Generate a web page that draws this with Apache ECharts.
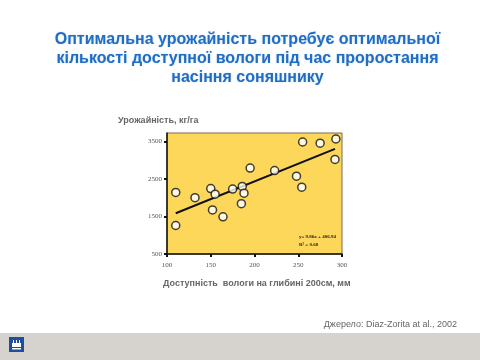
<!DOCTYPE html>
<html><head><meta charset="utf-8">
<script src="https://cdn.jsdelivr.net/npm/echarts@6/dist/echarts.min.js"></script>
<style>html,body{margin:0;padding:0;background:#fff}#c{width:480px;height:360px}</style>
</head><body><div id="c"></div>
<script>
// Data
const moisture = [110, 110, 132, 150, 155, 152, 164, 175, 186, 188, 185, 195, 223, 248, 254, 255, 275, 293, 292];
const yieldKg  = [2140, 1260, 2000, 2245, 2095, 1675, 1490, 2230, 2300, 2120, 1840, 2790, 2725, 2575, 2280, 3485, 3455, 3565, 3020];
const trendX = [110, 292];
const trendY = [1585, 3300];
const xTicks = [100, 150, 200, 250, 300];
const yTicks = [500, 1500, 2500, 3500];

const pts = moisture.map((x, i) => [x, yieldKg[i]]);
const line = trendX.map((x, i) => [x, trendY[i]]);

const chart = echarts.init(document.getElementById('c'), null, {renderer: 'canvas'});
const axisFont = {fontFamily: 'Liberation Serif', fontSize: 7, color: '#555', formatter: v => String(v)};
chart.setOption({
  backgroundColor: '#fff',
  animation: false,
  grid: {left: 167, right: 138, top: 133, bottom: 106, show: true, backgroundColor: '#FCD75A', borderColor: '#7a6a50', borderWidth: 1},
  xAxis: {
    type: 'value', min: xTicks[0], max: xTicks[xTicks.length - 1], interval: 50,
    splitLine: {show: false},
    axisLine: {lineStyle: {color: '#111', width: 1.5}},
    axisTick: {show: true, length: 3, lineStyle: {color: '#111', width: 2}},
    axisLabel: Object.assign({margin: 8}, axisFont)
  },
  yAxis: {
    type: 'value', min: yTicks[0], max: 3725, interval: 1000,
    splitLine: {show: false},
    axisLine: {show: true, lineStyle: {color: '#111', width: 1.5}},
    axisTick: {show: true, length: 3, lineStyle: {color: '#111', width: 2}},
    axisLabel: Object.assign({margin: 5, showMaxLabel: false}, axisFont)
  },
  series: [
    {type: 'line', data: line, symbol: 'none', lineStyle: {color: '#111', width: 2}, z: 2},
    {type: 'scatter', data: pts, symbol: 'circle', symbolSize: 8,
     itemStyle: {color: '#fff', borderColor: '#111', borderWidth: 1.5}, z: 3}
  ],
  graphic: [
    {type: 'text', x: 247.5, y: 30, style: {
      text: 'Оптимальна урожайність потребує оптимальної\nкількості доступної вологи під час проростання\nнасіння соняшнику',
      textAlign: 'center', font: 'bold 16px "Liberation Sans"', lineHeight: 19, fill: '#1F6DC4',
      textShadowColor: 'rgba(31,109,196,0.25)', textShadowBlur: 2}},
    {type: 'text', left: 118, top: 116, style: {text: 'Урожайність, кг/га', font: 'bold 9px "Liberation Sans"', fill: '#666'}},
    {type: 'text', left: 163, top: 279, style: {text: 'Доступність  вологи на глибині 200см, мм', font: 'bold 9px "Liberation Sans"', fill: '#666'}},
    {type: 'text', right: 23, top: 320, style: {text: 'Джерело: Diaz-Zorita at al., 2002', font: '9px "Liberation Sans"', fill: '#666'}},
    {type: 'text', left: 299, top: 234, style: {text: 'y= 9.86x + 406.94', textAlign: 'center', font: 'bold 5px "Liberation Serif"', fill: '#222'}},
    {type: 'text', left: 299, top: 242, style: {text: 'R² = 0.68', textAlign: 'center', font: 'bold 5px "Liberation Serif"', fill: '#222'}},
    {type: 'rect', left: 0, top: 333, shape: {width: 480, height: 27}, style: {fill: '#D6D2CD'}, z: -1},
    {type: 'group', left: 9, top: 337, children: [
      {type: 'rect', shape: {x: 0, y: 0, width: 15, height: 15}, style: {fill: '#1E4E9C'}},
      {type: 'rect', shape: {x: 3, y: 6, width: 9, height: 4}, style: {fill: '#fff'}},
      {type: 'rect', shape: {x: 4, y: 3, width: 1, height: 3}, style: {fill: '#fff'}},
      {type: 'rect', shape: {x: 7, y: 3, width: 1, height: 3}, style: {fill: '#fff'}},
      {type: 'rect', shape: {x: 10, y: 3, width: 1, height: 3}, style: {fill: '#fff'}},
      {type: 'rect', shape: {x: 3, y: 11, width: 9, height: 1.5}, style: {fill: '#fff'}}
    ]}
  ]
});
</script></body></html>
